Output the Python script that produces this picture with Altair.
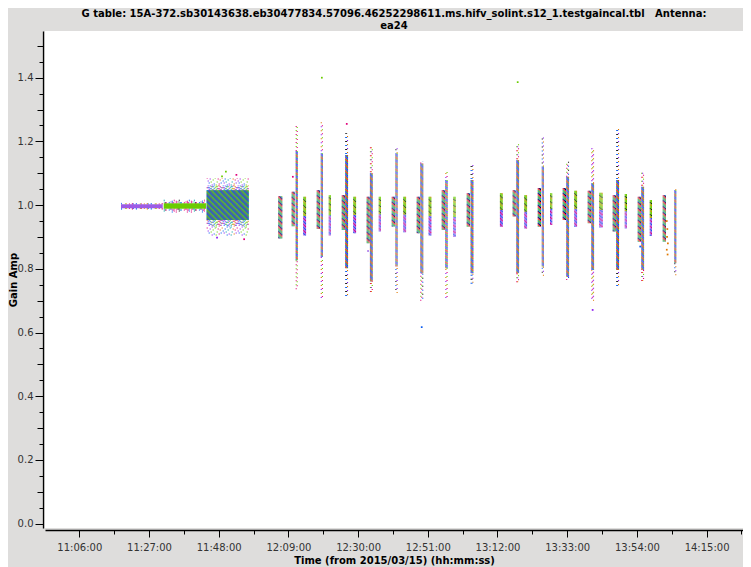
import altair as alt
import pandas as pd

# ---------------- text ----------------
TITLE_LINES = ["G table: 15A-372.sb30143638.eb30477834.57096.46252298611.ms.hifv_solint.s12_1.testgaincal.tbl\u00a0\u00a0\u00a0Antenna:",
               "ea24"]
X_TITLE = "Time (from 2015/03/15) (hh:mm:ss)"
Y_TITLE = "Gain Amp"

# ---------------- axes ----------------
x_tick_labels = ["11:06:00", "11:27:00", "11:48:00", "12:09:00", "12:30:00",
                 "12:51:00", "13:12:00", "13:33:00", "13:54:00", "14:15:00"]
x_minor_ticks = ["11:16:30", "11:37:30", "11:58:30", "12:19:30", "12:40:30",
                 "13:01:30", "13:22:30", "13:43:30", "14:04:30", "14:25:30"]
x_domain = ["10:55:40", "14:25:58"]
y_major = [0.0, 0.2, 0.4, 0.6, 0.8, 1.0, 1.2, 1.4]
y_mid = [0.1, 0.3, 0.5, 0.7, 0.9, 1.1, 1.3, 1.5]
y_minor = [0.05, 0.15, 0.25, 0.35, 0.45, 0.55, 0.65, 0.75, 0.85, 0.95,
           1.05, 1.15, 1.25, 1.35, 1.45]
y_domain = [-0.0135, 1.5466]

# ---------------- data: long solution blocks ----------------
block_start = ["11:18:34", "11:31:26", "11:44:23"]
block_end = ["11:31:08", "11:44:10", "11:57:02"]
block_lo = [0.990, 0.989, 0.953]
block_hi = [1.003, 1.006, 1.047]
block_mid_lo = [0.988, 0.983, 0.935]
block_mid_hi = [1.005, 1.011, 1.062]
block_tail_lo = [0.986, 0.977, 0.905]
block_tail_hi = [1.007, 1.017, 1.085]

# ---------------- data: scans ----------------
scan_start = ["12:05:57", "12:09:59", "12:11:12", "12:13:29", "12:17:31", "12:18:44", "12:21:08",
              "12:25:04", "12:26:08", "12:28:33", "12:32:35", "12:33:35", "12:36:12", "12:40:07",
              "12:41:13", "12:43:37", "12:47:39", "12:48:44", "12:51:16", "12:55:11", "12:56:16",
              "12:58:41", "13:02:43", "13:03:55", "13:12:45", "13:16:34", "13:17:40", "13:20:04",
              "13:24:07", "13:25:19", "13:27:49", "13:31:38", "13:32:43", "13:35:08", "13:39:10",
              "13:40:16", "13:42:40", "13:46:42", "13:47:47", "13:50:19", "13:54:14", "13:55:19",
              "13:57:51", "14:01:46", "14:05:16"]
scan_end = ["12:07:10", "12:10:54", "12:11:48", "12:14:18", "12:18:31", "12:19:25", "12:21:50",
            "12:26:03", "12:26:57", "12:29:22", "12:33:29", "12:34:24", "12:36:54", "12:41:07",
            "12:41:56", "12:44:26", "12:48:39", "12:49:38", "12:52:03", "12:56:11", "12:56:59",
            "12:59:24", "13:03:43", "13:04:43", "13:13:34", "13:17:29", "13:18:28", "13:20:53",
            "13:25:06", "13:26:01", "13:28:31", "13:32:38", "13:33:32", "13:35:57", "13:40:10",
            "13:41:04", "13:43:41", "13:47:42", "13:48:36", "13:51:01", "13:55:14", "13:56:08",
            "13:58:33", "14:02:46", "14:05:52"]
scan_kind = ["A", "A", "T", "N", "A", "T", "N", "A", "T", "N", "A", "T", "N", "A", "T",
             "N", "A", "T", "N", "A", "T", "N", "A", "T", "N", "A", "T", "N", "A", "T",
             "N", "A", "T", "N", "A", "T", "N", "A", "T", "N", "A", "T", "N", "A", "T"]
scan_lo = [0.895, 0.934, 0.827, 0.905, 0.925, 0.837, 0.905, 0.922, 0.802, 0.912, 0.880, 0.760,
           0.917, 0.933, 0.807, 0.915, 0.912, 0.786, 0.905, 0.922, 0.802, 0.900, 0.932, 0.786,
           0.932, 0.964, 0.787, 0.927, 0.932, 0.807, 0.938, 0.953, 0.775, 0.932, 0.943, 0.796,
           0.930, 0.917, 0.796, 0.927, 0.885, 0.796, 0.903, 0.885, 0.818]
scan_hi = [1.028, 1.042, 1.170, 1.026, 1.047, 1.163, 1.031, 1.031, 1.157, 1.026, 1.026, 1.100,
           1.026, 1.026, 1.163, 1.026, 1.026, 1.131, 1.026, 1.047, 1.079, 1.026, 1.037, 1.079,
           1.037, 1.047, 1.141, 1.031, 1.054, 1.121, 1.037, 1.054, 1.089, 1.045, 1.045, 1.069,
           1.039, 1.031, 1.079, 1.035, 1.026, 1.058, 1.016, 1.031, 1.047]
scan_tail_lo = [0.895, 0.934, 0.736, 0.905, 0.925, 0.702, 0.905, 0.922, 0.712, 0.912, 0.880, 0.724,
                0.917, 0.933, 0.724, 0.915, 0.912, 0.700, 0.905, 0.922, 0.702, 0.900, 0.932, 0.750,
                0.932, 0.964, 0.755, 0.927, 0.932, 0.778, 0.938, 0.953, 0.765, 0.932, 0.943, 0.700,
                0.930, 0.917, 0.743, 0.927, 0.885, 0.759, 0.903, 0.885, 0.780]
scan_tail_hi = [1.028, 1.042, 1.248, 1.026, 1.047, 1.260, 1.031, 1.031, 1.226, 1.026, 1.026, 1.183,
                1.026, 1.026, 1.180, 1.026, 1.026, 1.138, 1.026, 1.047, 1.108, 1.026, 1.037, 1.132,
                1.037, 1.047, 1.194, 1.031, 1.054, 1.217, 1.037, 1.054, 1.136, 1.045, 1.045, 1.179,
                1.039, 1.031, 1.239, 1.035, 1.026, 1.104, 1.016, 1.031, 1.050]

# isolated points
out_time = ["12:19:05", "13:18:05", "12:26:35", "12:49:10", "13:40:40", "11:50:10", "11:53:20",
            "11:47:30", "11:55:40", "11:49:00", "14:03:00", "14:03:10", "14:03:05", "14:03:20",
            "14:03:00", "14:03:15", "12:10:20", "12:33:00", "13:55:00"]
out_amp = [1.400, 1.386, 1.255, 0.617, 0.671, 1.105, 1.095, 0.898, 0.893, 1.090, 0.950, 0.925,
           0.900, 0.880, 0.860, 0.845, 1.089, 0.856, 0.870]
out_col = ["#6acc00", "#6acc00", "#e0007a", "#0b5cf0", "#8c1cf0", "#6acc00", "#e0007a",
           "#8c1cf0", "#e0007a", "#6acc00", "#e07800", "#e07800", "#e07800", "#e07800",
           "#e07800", "#e07800", "#e0007a", "#9d5ce6", "#0b5cf0"]

# ---------------- styles ----------------
PURPLE, GREEN, TEAL, BLUE = "#9d5ce6", "#6acc00", "#009fa8", "#0b5cf0"
MAGENTA, ORANGE, BLACK, VIOLET = "#e0007a", "#e07800", "#141414", "#8c1cf0"
PAL = {
    "A": [MAGENTA, BLACK, BLUE, GREEN, TEAL, ORANGE],
    "T": [BLUE, GREEN, MAGENTA, ORANGE, TEAL, VIOLET],
    "Ntop": [GREEN, GREEN, ORANGE, GREEN, BLACK, GREEN],
    "Nbot": [PURPLE, BLUE, PURPLE, PURPLE, MAGENTA, PURPLE],
    "tail": [MAGENTA, BLUE, ORANGE, GREEN, BLACK, VIOLET],
    "B3": [TEAL, BLUE, MAGENTA, TEAL, GREEN, ORANGE],
}
block_fill = [PURPLE, GREEN, TEAL]
block_tail_pal = [[BLUE, GREEN, ORANGE, BLUE, GREEN, MAGENTA],
                  [MAGENTA, TEAL, BLUE, MAGENTA, BLACK, MAGENTA],
                  [TEAL, MAGENTA, BLUE, GREEN, ORANGE, VIOLET]]
# texture phase per column (breaks horizontal alignment of the dash dots)
PHASE = [0, 3, 1, 5, 2, 4, 3, 0, 5, 1, 4, 2, 1, 5, 0, 2, 4, 3]
TPHASE = [0, 5, 2, 7, 3, 6, 1, 4, 6, 2, 5, 0, 3, 7, 1]

W, H = 698, 497


def tmin(s):
    h, m, sec = (int(v) for v in s.split(":"))
    return h * 60 + m + sec / 60.0


X0, X1 = tmin(x_domain[0]), tmin(x_domain[1])
PX_PER_MIN = W / (X1 - X0)

core_rows, tail_rows = [], []


def add_columns(t0, t1, segs, tails, sid):
    w = (t1 - t0) * PX_PER_MIN
    n = max(2, int(round(w)))
    for i in range(n):
        x = t0 + (i + 0.5) * (t1 - t0) / n
        ph = PHASE[(i + 5 * sid) % len(PHASE)]
        for lo, hi, pal in segs:
            for k in range(6):
                core_rows.append(dict(x=x, y=hi, y2=lo, c=pal[(k + ph + i) % 6], k=(k + ph) % 6))
        tp = TPHASE[(i + 3 * sid) % len(TPHASE)]
        for lo, hi, pal, dots in tails:
            if hi - lo > 0.001:
                for j in range(dots):
                    tail_rows.append(dict(x=x, y=lo, y2=hi, c=pal[(j * 3 + tp + i) % 6],
                                          k=(tp + 8 * j // dots) % 8))


# blocks
rect_rows = []
for b in range(3):
    t0, t1 = tmin(block_start[b]), tmin(block_end[b])
    rect_rows.append(dict(x=t0, x2=t1, y=block_lo[b], y2=block_hi[b], c=block_fill[b]))
    segs = [(block_lo[b], block_hi[b], PAL["B3"])] if b == 2 else []
    tp = block_tail_pal[b]
    tails = [(block_mid_lo[b], block_lo[b], tp, 3), (block_hi[b], block_mid_hi[b], tp, 3),
             (block_tail_lo[b], block_mid_lo[b], tp, 1), (block_mid_hi[b], block_tail_hi[b], tp, 1)]
    add_columns(t0, t1, segs, tails, b)

# scans
for s in range(len(scan_start)):
    t0, t1 = tmin(scan_start[s]), tmin(scan_end[s])
    lo, hi = scan_lo[s], scan_hi[s]
    kd = scan_kind[s]
    if kd == "N":
        mid = (lo + hi) / 2
        segs = [(mid, hi, PAL["Ntop"]), (lo, mid, PAL["Nbot"])]
    else:
        segs = [(lo, hi, PAL[kd])]
    tails = [(scan_tail_lo[s], lo, PAL["tail"], 2), (hi, scan_tail_hi[s], PAL["tail"], 2)]
    add_columns(t0, t1, segs, tails, s + 3)

core_df = pd.DataFrame(core_rows)
tail_df = pd.DataFrame(tail_rows)
rect_df = pd.DataFrame(rect_rows)
pts_df = pd.DataFrame({"x": [tmin(t) for t in out_time], "y": out_amp, "c": out_col})

xs = alt.Scale(domain=[X0, X1], nice=False, zero=False)
ys = alt.Scale(domain=y_domain, nice=False, zero=False)
XN = alt.X("x:Q", scale=xs, axis=None)
YN = alt.Y("y:Q", scale=ys, axis=None)
CN = alt.Color("c:N", scale=None)

layers = []
layers.append(alt.Chart(rect_df).mark_rect().encode(x=XN, x2="x2:Q", y=YN, y2="y2:Q", color=CN))
for k in range(6):
    layers.append(
        alt.Chart(core_df).transform_filter(alt.datum.k == k)
        .mark_rule(strokeDash=[1, 5], strokeDashOffset=k, strokeWidth=1.1)
        .encode(x=XN, y=YN, y2="y2:Q", color=CN)
    )
for k in range(8):
    layers.append(
        alt.Chart(tail_df).transform_filter(alt.datum.k == k)
        .mark_rule(strokeDash=[1, 7], strokeDashOffset=k, strokeWidth=1.1)
        .encode(x=XN, y=YN, y2="y2:Q", color=CN)
    )
layers.append(alt.Chart(pts_df).mark_square(size=3, opacity=1).encode(x=XN, y=YN, color=CN))

AX = dict(domainColor="black", tickColor="black", labelColor="#333333", labelFont="DejaVu Sans",
          labelFontSize=10, titleFont="DejaVu Sans", titleFontSize=10, titleFontWeight="bold",
          titleColor="black", grid=False, domainWidth=1.3, tickWidth=1)

# x axes
xmaj_df = pd.DataFrame({"x": [tmin(t) for t in x_tick_labels]})
layers.append(alt.Chart(xmaj_df).mark_point(opacity=0).encode(
    x=alt.X("x:Q", scale=xs, axis=alt.Axis(
        values=[tmin(t) for t in x_tick_labels], orient="bottom", offset=2, tickSize=7,
        labelPadding=5, title=X_TITLE, titlePadding=3,
        labelExpr="timeFormat(datetime(2015, 2, 15, 0, datum.value, 0), '%H:%M:%S')", **AX))))
xmin_df = pd.DataFrame({"x": [tmin(t) for t in x_minor_ticks]})
layers.append(alt.Chart(xmin_df).mark_point(opacity=0).encode(
    x=alt.X("x:Q", scale=xs, axis=alt.Axis(
        values=[tmin(t) for t in x_minor_ticks], orient="bottom", offset=2, tickSize=4,
        labels=False, domain=False, title=None, tickColor="black", grid=False))))

# y axes
layers.append(alt.Chart(pd.DataFrame({"y": y_major})).mark_point(opacity=0).encode(
    y=alt.Y("y:Q", scale=ys, axis=alt.Axis(
        values=y_major, orient="left", offset=2, tickSize=8, labelPadding=2, format=".1f",
        title=Y_TITLE, titleX=-35, titleBaseline="top", titleAngle=-90, **AX))))
layers.append(alt.Chart(pd.DataFrame({"y": y_mid})).mark_point(opacity=0).encode(
    y=alt.Y("y:Q", scale=ys, axis=alt.Axis(
        values=y_mid, orient="left", offset=2, tickSize=6, labels=False, domain=False,
        title=None, tickColor="black", grid=False))))
layers.append(alt.Chart(pd.DataFrame({"y": y_minor})).mark_point(opacity=0).encode(
    y=alt.Y("y:Q", scale=ys, axis=alt.Axis(
        values=y_minor, orient="left", offset=2, tickSize=4, labels=False, domain=False,
        title=None, tickColor="black", grid=False))))

chart = (
    alt.layer(*layers)
    .resolve_axis(x="independent", y="independent")
    .properties(
        width=W, height=H,
        title=alt.TitleParams(TITLE_LINES, font="DejaVu Sans", fontSize=10, fontWeight="bold",
                              color="black", anchor="middle", offset=0, lineHeight=12),
        padding={"left": 37, "top": 23, "right": 0, "bottom": 39},
        autosize=alt.AutoSizeParams(type="none"),
        background="#dedddc",
    )
    .configure_view(stroke=None, fill="white")
)

chart.save("out.html", embed_options={"renderer": "svg", "actions": False})
